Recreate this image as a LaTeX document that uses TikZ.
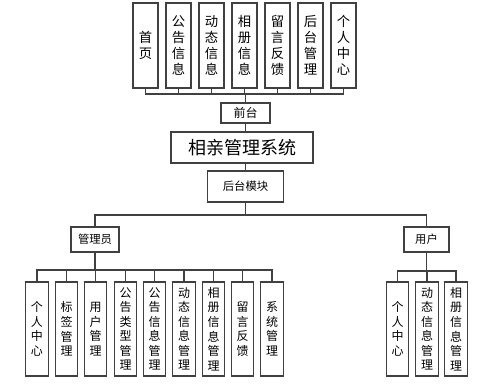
\documentclass[tikz,border=0pt]{standalone}
\usepackage{fontspec}
\newfontfamily\cjk{Noto Sans CJK SC}
\begin{document}
\begin{tikzpicture}[x=0.75pt,y=-0.75pt,
  box/.style={draw=black!75,line width=0.8pt,inner sep=0pt,align=center,font=\cjk\fontsize{9}{11}\selectfont},
  topcol/.style={box,minimum width=18.75pt,minimum height=63.75pt,font=\cjk\fontsize{10}{12}\selectfont},
  botcol/.style={box,minimum width=17pt,minimum height=70.5pt,font=\cjk\fontsize{9}{10.9}\selectfont},
  wire/.style={draw=black!75,line width=0.8pt}]
\useasboundingbox (0,0) rectangle (500,385);
% front end pages
\node[topcol] (shouye) at (145.5,45.5) {首\\页};
\node[topcol] (gonggao) at (178.5,45.5) {公\\告\\信\\息};
\node[topcol] (dongtai) at (211.5,45.5) {动\\态\\信\\息};
\node[topcol] (xiangce) at (244.5,45.5) {相\\册\\信\\息};
\node[topcol] (liuyan) at (277.5,45.5) {留\\言\\反\\馈};
\node[topcol] (houtaigl) at (310.5,45.5) {后\\台\\管\\理};
\node[topcol] (geren) at (343.5,45.5) {个\\人\\中\\心};
\coordinate (topbus) at (0,94);
% spine
\node[box,minimum width=36.75pt,minimum height=15pt] (qiantai) at (245.5,113) {前台};
\node[box,minimum width=106.5pt,minimum height=23.25pt,font=\cjk\fontsize{13.5}{16}\selectfont] (xitong) at (242,147.5) {相亲管理系统};
\node[box,minimum width=57pt,minimum height=23.25pt,font=\cjk\fontsize{8.5}{10}\selectfont] (houtai) at (245.5,186.5) {后台模块};
\coordinate (midbus) at (0,215);
\node[box,minimum width=36pt,minimum height=18.75pt,font=\cjk\fontsize{8.5}{10}\selectfont] (guanli) at (95,239.5) {管理员};
\node[box,minimum width=33.75pt,minimum height=18.75pt,font=\cjk\fontsize{8.5}{10}\selectfont] (yonghu) at (426.5,239.5) {用户};
% admin functions
\node[botcol] (agr) at (37,329) {个\\人\\中\\心};
\node[botcol] (abq) at (66.5,329) {标\\签\\管\\理};
\node[botcol] (ayh) at (95.5,329) {用\\户\\管\\理};
\node[botcol] (alx) at (125.5,329) {公\\告\\类\\型\\管\\理};
\node[botcol] (agg) at (154.5,329) {公\\告\\信\\息\\管\\理};
\node[botcol] (adt) at (184,329) {动\\态\\信\\息\\管\\理};
\node[botcol] (axc) at (213.5,329) {相\\册\\信\\息\\管\\理};
\node[botcol] (aly) at (242.5,329) {留\\言\\反\\馈};
\node[botcol] (axt) at (272,329) {系\\统\\管\\理};
\coordinate (adminbus) at (0,270);
% user functions
\node[botcol] (ugr) at (397.5,329) {个\\人\\中\\心};
\node[botcol] (udt) at (427,329) {动\\态\\信\\息\\管\\理};
\node[botcol] (uxc) at (456,329) {相\\册\\信\\息\\管\\理};
\coordinate (userbus) at (0,271);
% connectors
\draw[wire] (shouye.south) -- (shouye.south |- topbus) -- (geren.south |- topbus) -- (geren.south);
\draw[wire] (gonggao.south) -- (gonggao.south |- topbus);
\draw[wire] (dongtai.south) -- (dongtai.south |- topbus);
\draw[wire] (xiangce.south) -- (xiangce.south |- topbus);
\draw[wire] (liuyan.south) -- (liuyan.south |- topbus);
\draw[wire] (houtaigl.south) -- (houtaigl.south |- topbus);
\draw[wire] (qiantai.north) -- (qiantai.north |- topbus);
\draw[wire] (qiantai.south) -- (qiantai.south |- xitong.north);
\draw[wire] (houtai.north) -- (houtai.north |- xitong.south);
\draw[wire] (houtai.south) -- (houtai.south |- midbus);
\draw[wire] (guanli.north) -- (guanli.north |- midbus) -- (yonghu.north |- midbus) -- (yonghu.north);
\draw[wire] (guanli.south) -- (guanli.south |- adminbus);
\draw[wire] (agr.north) -- (agr.north |- adminbus) -- (axt.north |- adminbus) -- (axt.north);
\draw[wire] (abq.north) -- (abq.north |- adminbus);
\draw[wire] (ayh.north) -- (ayh.north |- adminbus);
\draw[wire] (alx.north) -- (alx.north |- adminbus);
\draw[wire] (agg.north) -- (agg.north |- adminbus);
\draw[wire] (adt.north) -- (adt.north |- adminbus);
\draw[wire] (axc.north) -- (axc.north |- adminbus);
\draw[wire] (aly.north) -- (aly.north |- adminbus);
\draw[wire] (yonghu.south) -- (yonghu.south |- userbus);
\draw[wire] (ugr.north) -- (ugr.north |- userbus) -- (uxc.north |- userbus) -- (uxc.north);
\draw[wire] (udt.north) -- (udt.north |- userbus);
\end{tikzpicture}
\end{document}
